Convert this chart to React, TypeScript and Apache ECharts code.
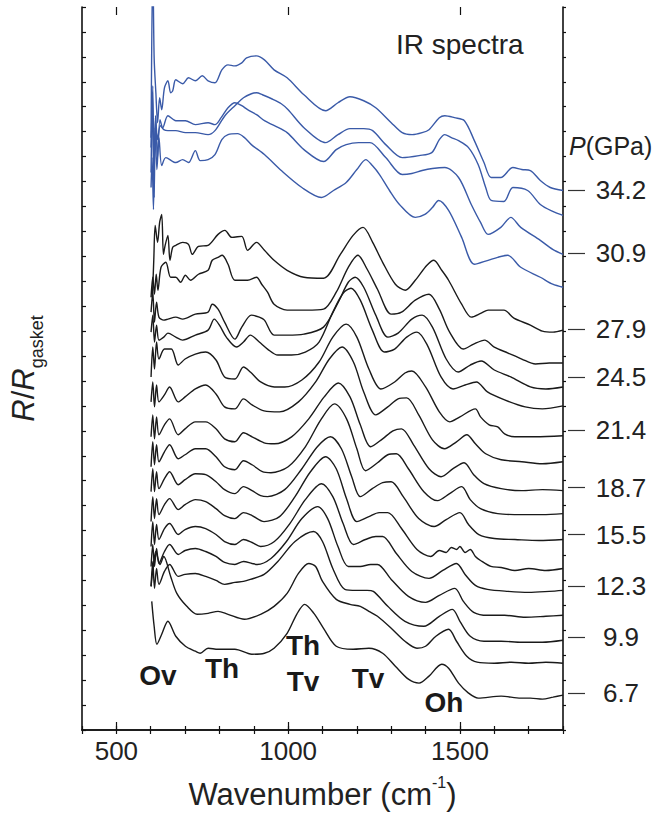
import React, { useEffect, useRef } from "react";
import * as echarts from "echarts";

// ---- axis / label data ----
const wavenumberLabels = [500, 1000, 1500];
const pressureLabels = ["34.2", "30.9", "27.9", "24.5", "21.4", "18.7", "15.5", "12.3", "9.9", "6.7"];
const pressureLevels = [5.41, 4.78, 4.02, 3.54, 3.01, 2.43, 1.96, 1.44, 0.93, 0.37];

// ---- spectra: [wavenumber (cm-1), R/Rgasket (offset, arb. units)] ----
const blue1 = [[601,5.94],[606,7.74],[610,6.74],[615,6.39],[620,6.09],[626,6.34],[632,6.22],[640,6.44],[650,6.51],[658,6.39],[664,6.41],[673,6.52],[693,6.48],[710,6.54],[730,6.51],[750,6.56],[767,6.51],[787,6.49],[807,6.62],[825,6.67],[845,6.66],[865,6.69],[879,6.74],[908,6.76],[931,6.72],[959,6.62],[997,6.54],[1046,6.37],[1109,6.21],[1145,6.29],[1180,6.35],[1220,6.31],[1255,6.24],[1300,6.09],[1332,5.99],[1361,5.97],[1390,5.99],[1410,6.02],[1440,6.14],[1456,6.16],[1484,6.14],[1513,6.11],[1542,5.91],[1570,5.69],[1591,5.54],[1619,5.54],[1654,5.64],[1680,5.62],[1705,5.61],[1734,5.51],[1763,5.44],[1800,5.41]];
const blue2 = [[601,5.59],[605,6.39],[609,5.49],[614,6.16],[620,5.92],[628,6.06],[638,6.02],[650,6.01],[673,6.01],[701,5.99],[730,5.99],[767,5.97],[787,6.01],[816,6.16],[845,6.26],[870,6.34],[893,6.38],[908,6.39],[925,6.37],[952,6.33],[980,6.28],[1000,6.22],[1046,6.04],[1109,5.89],[1145,5.97],[1180,6.03],[1220,6.03],[1246,6.01],[1284,5.87],[1332,5.74],[1381,5.76],[1418,5.79],[1440,5.92],[1456,5.97],[1475,5.94],[1496,5.91],[1525,5.84],[1553,5.67],[1575,5.44],[1591,5.31],[1628,5.30],[1654,5.44],[1697,5.41],[1734,5.27],[1770,5.20],[1800,5.16]];
const blue3 = [[601,5.84],[606,6.46],[610,5.34],[614,6.14],[620,5.74],[627,6.12],[635,6.04],[650,6.16],[673,6.11],[701,6.11],[730,6.07],[767,6.09],[787,6.07],[805,6.14],[825,6.24],[845,6.29],[865,6.26],[882,6.22],[908,6.17],[931,6.11],[960,6.06],[997,5.99],[1046,5.82],[1103,5.70],[1140,5.82],[1169,5.87],[1205,5.89],[1238,5.89],[1284,5.74],[1332,5.57],[1360,5.58],[1390,5.61],[1420,5.63],[1456,5.64],[1496,5.54],[1533,5.27],[1560,5.09],[1582,4.97],[1619,5.04],[1648,5.14],[1677,5.04],[1734,4.91],[1770,4.82],[1800,4.77]];
const blue4 = [[601,5.44],[604,5.74],[608,5.22],[613,6.04],[618,5.62],[624,5.94],[632,5.66],[644,5.74],[673,5.69],[693,5.72],[710,5.69],[730,5.81],[744,5.71],[767,5.72],[787,5.77],[807,5.92],[825,5.97],[853,5.98],[873,5.94],[893,5.87],[931,5.77],[980,5.61],[1040,5.44],[1097,5.34],[1132,5.41],[1169,5.49],[1200,5.62],[1226,5.72],[1245,5.66],[1266,5.57],[1295,5.41],[1324,5.27],[1370,5.14],[1398,5.17],[1420,5.24],[1438,5.31],[1467,5.21],[1505,4.94],[1542,4.67],[1582,4.71],[1610,4.74],[1639,4.76],[1677,4.64],[1734,4.54],[1770,4.47],[1800,4.44]];

const black1 = [[605,4.34],[609,4.72],[613,5.06],[620,4.89],[626,5.09],[632,5.17],[637,4.77],[642,4.86],[650,4.96],[656,4.71],[664,4.84],[673,4.86],[693,4.89],[710,4.87],[721,4.77],[739,4.85],[767,4.86],[796,4.97],[816,5.01],[836,4.94],[865,4.95],[882,4.81],[908,4.89],[931,4.81],[959,4.71],[997,4.61],[1046,4.54],[1103,4.53],[1152,4.77],[1189,4.96],[1218,5.04],[1246,4.89],[1275,4.69],[1312,4.47],[1341,4.41],[1370,4.51],[1404,4.66],[1424,4.71],[1447,4.61],[1467,4.51],[1505,4.27],[1533,4.14],[1562,4.18],[1582,4.21],[1628,4.21],[1657,4.13],[1705,4.06],[1740,4.00],[1771,3.99],[1800,4.01]];
const black2 = [[601,4.34],[606,4.54],[611,4.37],[616,4.57],[621,4.41],[630,4.64],[644,4.69],[658,4.54],[673,4.54],[687,4.49],[701,4.56],[716,4.51],[739,4.57],[767,4.61],[779,4.71],[796,4.74],[808,4.76],[825,4.67],[845,4.51],[882,4.51],[908,4.54],[923,4.47],[940,4.39],[959,4.27],[997,4.21],[1052,4.21],[1103,4.22],[1140,4.39],[1175,4.64],[1203,4.76],[1230,4.62],[1260,4.42],[1300,4.17],[1330,4.19],[1370,4.31],[1410,4.37],[1440,4.22],[1470,3.99],[1510,3.82],[1540,3.87],[1572,3.91],[1600,3.84],[1640,3.78],[1680,3.72],[1720,3.67],[1760,3.68],[1800,3.68]];
const black3 = [[601,4.19],[606,4.39],[611,4.09],[617,4.29],[624,4.14],[638,4.11],[650,4.12],[673,4.14],[693,4.12],[730,4.17],[767,4.19],[779,4.27],[796,4.22],[815,4.09],[845,3.92],[865,4.04],[893,4.16],[916,4.14],[931,4.11],[959,3.96],[997,3.96],[1046,3.97],[1103,4.04],[1146,4.29],[1175,4.49],[1195,4.54],[1220,4.44],[1255,4.16],[1290,3.94],[1320,3.98],[1360,4.12],[1390,4.16],[1420,4.04],[1460,3.72],[1495,3.59],[1530,3.66],[1562,3.70],[1600,3.61],[1648,3.54],[1705,3.44],[1750,3.42],[1800,3.44]];
const black4 = [[601,3.99],[606,4.16],[611,3.89],[617,4.06],[624,3.91],[638,3.94],[650,3.98],[673,3.94],[693,3.91],[730,3.96],[767,4.01],[785,4.12],[800,4.06],[820,3.94],[850,3.84],[870,3.89],[890,3.96],[916,3.89],[940,3.82],[970,3.76],[1010,3.76],[1050,3.79],[1090,3.89],[1130,4.19],[1160,4.38],[1183,4.43],[1210,4.31],[1245,4.01],[1280,3.79],[1310,3.82],[1345,3.94],[1375,3.99],[1405,3.86],[1445,3.54],[1480,3.42],[1515,3.46],[1548,3.49],[1580,3.39],[1630,3.31],[1690,3.24],[1740,3.22],[1800,3.25]];
const black5 = [[601,3.54],[606,3.84],[611,3.62],[617,3.89],[624,3.72],[640,3.82],[660,3.82],[680,3.66],[700,3.72],[730,3.77],[760,3.79],[790,3.71],[815,3.54],[845,3.52],[870,3.64],[890,3.59],[920,3.49],[960,3.44],[990,3.44],[1040,3.51],[1090,3.69],[1130,3.94],[1169,4.07],[1200,3.94],[1235,3.62],[1270,3.42],[1310,3.49],[1340,3.58],[1360,3.60],[1400,3.44],[1440,3.19],[1470,3.09],[1500,3.14],[1545,3.22],[1560,3.14],[1585,3.06],[1610,3.04],[1630,2.97],[1660,2.94],[1720,2.94],[1800,2.95]];
const black6 = [[601,3.29],[606,3.49],[611,3.24],[617,3.46],[624,3.29],[640,3.36],[655,3.44],[680,3.29],[700,3.34],[730,3.42],[760,3.46],[790,3.37],[815,3.24],[845,3.22],[870,3.32],[895,3.26],[930,3.20],[975,3.19],[1030,3.29],[1080,3.49],[1120,3.72],[1157,3.84],[1190,3.69],[1220,3.39],[1255,3.16],[1290,3.24],[1320,3.32],[1345,3.33],[1380,3.16],[1420,2.91],[1455,2.82],[1490,2.89],[1520,2.96],[1545,2.87],[1575,2.77],[1620,2.71],[1680,2.69],[1740,2.67],[1800,2.69]];
const black7 = [[601,2.94],[606,3.16],[611,2.92],[617,3.14],[624,2.96],[640,3.06],[655,3.12],[680,2.96],[700,3.02],[730,3.09],[760,3.09],[790,3.02],[815,2.92],[845,2.89],[870,2.98],[895,2.94],[930,2.88],[960,2.87],[1010,2.94],[1060,3.12],[1105,3.34],[1146,3.48],[1180,3.34],[1210,3.06],[1240,2.84],[1275,2.92],[1305,3.00],[1330,3.02],[1365,2.86],[1410,2.62],[1445,2.54],[1480,2.62],[1512,2.68],[1540,2.56],[1570,2.47],[1620,2.42],[1680,2.40],[1740,2.41],[1800,2.40]];
const black8 = [[601,2.64],[606,2.89],[611,2.66],[617,2.86],[624,2.69],[640,2.79],[655,2.86],[680,2.72],[700,2.76],[730,2.82],[760,2.82],[790,2.74],[815,2.64],[845,2.61],[870,2.70],[895,2.66],[925,2.59],[950,2.58],[1000,2.64],[1050,2.84],[1095,3.11],[1135,3.27],[1170,3.12],[1200,2.82],[1225,2.60],[1260,2.68],[1290,2.76],[1315,2.77],[1350,2.62],[1395,2.39],[1435,2.30],[1470,2.37],[1505,2.44],[1530,2.31],[1560,2.22],[1610,2.17],[1680,2.16],[1740,2.16],[1800,2.17]];
const black9 = [[601,2.39],[606,2.62],[611,2.39],[617,2.59],[624,2.42],[640,2.52],[655,2.59],[680,2.46],[700,2.51],[730,2.57],[760,2.56],[790,2.49],[815,2.41],[845,2.37],[870,2.44],[895,2.40],[920,2.35],[940,2.34],[990,2.41],[1040,2.62],[1085,2.84],[1123,2.94],[1155,2.82],[1185,2.54],[1210,2.34],[1245,2.42],[1275,2.48],[1300,2.49],[1335,2.34],[1380,2.12],[1425,2.04],[1460,2.11],[1500,2.18],[1525,2.06],[1555,1.96],[1600,1.92],[1660,1.91],[1730,1.90],[1800,1.91]];
const black10 = [[601,2.09],[606,2.34],[611,2.12],[617,2.32],[624,2.16],[640,2.26],[655,2.32],[680,2.21],[700,2.26],[730,2.31],[760,2.29],[790,2.22],[815,2.15],[845,2.12],[870,2.18],[895,2.15],[930,2.09],[975,2.14],[1020,2.34],[1065,2.59],[1109,2.74],[1140,2.62],[1170,2.32],[1200,2.09],[1235,2.14],[1265,2.18],[1290,2.18],[1330,2.02],[1375,1.81],[1415,1.74],[1440,1.80],[1460,1.78],[1475,1.83],[1490,1.81],[1500,1.84],[1515,1.78],[1530,1.81],[1545,1.74],[1560,1.70],[1590,1.64],[1620,1.63],[1660,1.60],[1700,1.62],[1750,1.60],[1800,1.62]];
const black11 = [[601,1.84],[606,2.09],[611,1.86],[617,2.06],[624,1.91],[640,2.02],[655,2.07],[680,1.96],[700,2.01],[730,2.04],[760,2.02],[790,1.96],[815,1.89],[845,1.86],[870,1.91],[895,1.88],[920,1.84],[960,1.89],[1005,2.07],[1050,2.31],[1097,2.47],[1130,2.34],[1160,2.07],[1190,1.86],[1225,1.91],[1255,1.94],[1275,1.94],[1315,1.77],[1360,1.59],[1410,1.52],[1450,1.60],[1490,1.67],[1515,1.56],[1545,1.45],[1580,1.41],[1640,1.39],[1700,1.38],[1760,1.39],[1800,1.40]];
const black12 = [[601,1.64],[606,1.86],[611,1.64],[617,1.82],[624,1.67],[640,1.79],[655,1.86],[680,1.76],[700,1.80],[730,1.82],[760,1.79],[790,1.74],[815,1.68],[845,1.66],[870,1.69],[895,1.67],[910,1.66],[950,1.72],[995,1.89],[1040,2.12],[1086,2.24],[1115,2.12],[1145,1.84],[1175,1.64],[1210,1.64],[1240,1.66],[1260,1.66],[1300,1.51],[1350,1.34],[1400,1.28],[1440,1.35],[1485,1.42],[1510,1.29],[1540,1.18],[1580,1.15],[1630,1.15],[1690,1.13],[1750,1.14],[1800,1.15]];
const black13 = [[601,1.44],[606,1.69],[611,1.42],[617,1.62],[624,1.46],[640,1.59],[655,1.66],[680,1.54],[700,1.56],[730,1.57],[760,1.54],[790,1.50],[815,1.46],[845,1.48],[870,1.49],[890,1.51],[930,1.56],[970,1.69],[1020,1.89],[1074,1.99],[1100,1.89],[1130,1.62],[1165,1.41],[1200,1.40],[1230,1.40],[1248,1.39],[1290,1.24],[1340,1.09],[1395,1.04],[1440,1.14],[1478,1.21],[1500,1.09],[1530,0.94],[1570,0.89],[1620,0.89],[1680,0.88],[1740,0.88],[1800,0.90]];
const black14 = [[601,1.44],[609,1.69],[615,1.79],[627,1.66],[638,1.74],[658,1.54],[676,1.37],[705,1.24],[735,1.16],[767,1.17],[796,1.19],[825,1.16],[873,1.11],[920,1.16],[959,1.24],[997,1.37],[1030,1.57],[1060,1.67],[1080,1.64],[1100,1.49],[1140,1.31],[1180,1.26],[1210,1.24],[1235,1.19],[1260,1.14],[1300,1.02],[1340,0.89],[1375,0.82],[1400,0.84],[1430,0.94],[1467,1.01],[1490,0.89],[1520,0.74],[1550,0.68],[1600,0.67],[1650,0.68],[1700,0.67],[1750,0.68],[1800,0.67]];
const black15 = [[603,1.29],[610,1.04],[618,0.86],[632,0.96],[650,1.09],[673,0.94],[701,0.84],[730,0.79],[744,0.77],[767,0.82],[796,0.81],[845,0.81],[894,0.76],[931,0.77],[959,0.82],[997,0.97],[1025,1.16],[1048,1.26],[1075,1.17],[1103,1.02],[1140,0.84],[1189,0.81],[1235,0.82],[1275,0.77],[1312,0.64],[1350,0.51],[1381,0.47],[1410,0.54],[1447,0.66],[1467,0.62],[1496,0.47],[1525,0.37],[1553,0.32],[1620,0.34],[1677,0.32],[1705,0.32],[1740,0.31],[1771,0.33],[1800,0.35]];

const blueSpectra = [blue1, blue2, blue3, blue4];
const blackSpectra = [black1, black2, black3, black4, black5, black6, black7, black8, black9, black10, black11, black12, black13, black14, black15];

const BLUE = "#3a5aa8";
const BLACK = "#1a1a1a";
const FONT = "'Liberation Sans', Arial, Helvetica, sans-serif";

export default function App() {
  const ref = useRef<HTMLDivElement>(null);
  useEffect(() => {
    if (!ref.current) return;
    const chart = echarts.init(ref.current, null, { renderer: "svg" });
    const mkLine = (d: number[][], color: string, i: number, tag: string) => ({
      type: "line",
      name: `${tag}${i + 1}`,
      data: d,
      xAxisIndex: 0,
      yAxisIndex: 0,
      showSymbol: false,
      symbol: "none",
      smooth: 0.3,
      silent: true,
      clip: true,
      lineStyle: { color, width: 1.4 },
    });
    const series = [
      ...blueSpectra.map((d, i) => mkLine(d, BLUE, i, "blue")),
      ...blackSpectra.map((d, i) => mkLine(d, BLACK, i, "black")),
    ];
    const axisLine = { show: true, lineStyle: { color: "#111", width: 1.6 } };
    const baseX = { type: "value", min: 400, max: 1800, interval: 100, splitLine: { show: false } };
    const baseY = { type: "value", min: 0, max: 7.25, interval: 0.25, splitLine: { show: false } };
    const bold = (text: string, x: number, y: number) => ({
      type: "text", x, y,
      style: { text, fontSize: 28, fontWeight: "bold", fill: "#1a1a1a", fontFamily: FONT, align: "center", verticalAlign: "middle" },
    });
    chart.setOption({
      animation: false,
      backgroundColor: "#fff",
      textStyle: { fontFamily: FONT },
      grid: { left: 75, top: 7, width: 488, height: 727, containLabel: false },
      xAxis: [
        {
          ...baseX,
          position: "bottom",
          axisLine,
          axisTick: { show: true, inside: true, length: 4, lineStyle: { color: "#111", width: 1.2 } },
          axisLabel: { show: true, customValues: wavenumberLabels, fontSize: 26, color: "#222", margin: 8, fontFamily: FONT, formatter: (v: number) => String(v) },
          name: "{n|Wavenumber (cm}{s|-1}{n|)}",
          nameLocation: "middle",
          nameGap: 44,
          nameTextStyle: {
            rich: {
              n: { fontSize: 31, color: "#222", fontFamily: FONT, verticalAlign: "bottom", lineHeight: 36 },
              s: { fontSize: 16, color: "#222", fontFamily: FONT, verticalAlign: "top", lineHeight: 36 },
            },
          },
        },
        {
          ...baseX,
          position: "bottom",
          axisLine: { show: false },
          axisTick: { show: true, inside: true, length: 8, customValues: wavenumberLabels, lineStyle: { color: "#111", width: 1.2 } },
          axisLabel: { show: false },
        },
        {
          ...baseX,
          position: "top",
          axisLine,
          axisTick: { show: true, inside: true, length: 4, lineStyle: { color: "#111", width: 1.2 } },
          axisLabel: { show: false },
        },
        {
          ...baseX,
          position: "top",
          axisLine: { show: false },
          axisTick: { show: true, inside: true, length: 8, customValues: wavenumberLabels, lineStyle: { color: "#111", width: 1.2 } },
          axisLabel: { show: false },
        },
      ],
      yAxis: [
        {
          ...baseY,
          position: "left",
          axisLine,
          axisTick: { show: true, inside: true, length: 4, lineStyle: { color: "#111", width: 1.2 } },
          axisLabel: { show: false },
          name: "{i|R}{n|/}{i|R}{s|gasket}",
          nameLocation: "middle",
          nameRotate: 90,
          nameGap: 36,
          nameTextStyle: {
            rich: {
              i: { fontSize: 31, fontStyle: "italic", color: "#222", fontFamily: FONT, verticalAlign: "top", lineHeight: 38 },
              n: { fontSize: 31, color: "#222", fontFamily: FONT, verticalAlign: "top", lineHeight: 38 },
              s: { fontSize: 18, color: "#222", fontFamily: FONT, verticalAlign: "bottom", lineHeight: 38 },
            },
          },
        },
        {
          ...baseY,
          position: "right",
          axisLine,
          axisTick: { show: true, inside: false, length: 3, lineStyle: { color: "#111", width: 1.2 } },
          axisLabel: { show: false },
        },
        {
          ...baseY,
          position: "right",
          offset: 5,
          axisLine: { show: false },
          axisTick: { show: true, inside: false, length: 17, customValues: pressureLevels, lineStyle: { color: "#333", width: 1.2 } },
          axisLabel: {
            show: true,
            customValues: pressureLevels,
            margin: 53,
            align: "center",
            fontSize: 26,
            color: "#222",
            fontFamily: FONT,
            formatter: (v: number) => {
              const i = pressureLevels.findIndex((l) => Math.abs(l - v) < 1e-6);
              return i >= 0 ? pressureLabels[i] : "";
            },
          },
        },
      ],
      graphic: [
        { type: "text", left: 396, top: 30, style: { text: "IR spectra", fontSize: 28, fill: "#222", fontFamily: FONT } },
        {
          type: "text", left: 569, top: 133,
          style: {
            text: "{i|P}{n|(GPa)}",
            rich: {
              i: { fontSize: 25, fontStyle: "italic", fill: "#222", fontFamily: FONT },
              n: { fontSize: 25, fill: "#222", fontFamily: FONT },
            },
          },
        },
        bold("Ov", 158, 675),
        bold("Th", 222, 668),
        bold("Th", 303, 645),
        bold("Tv", 303, 681),
        bold("Tv", 368, 678),
        bold("Oh", 444, 702),
      ],
      series,
    });
    return () => chart.dispose();
  }, []);
  return <div ref={ref} style={{ position: "fixed", left: 0, top: 0, width: 660, height: 815, background: "#fff" }} />;
}
